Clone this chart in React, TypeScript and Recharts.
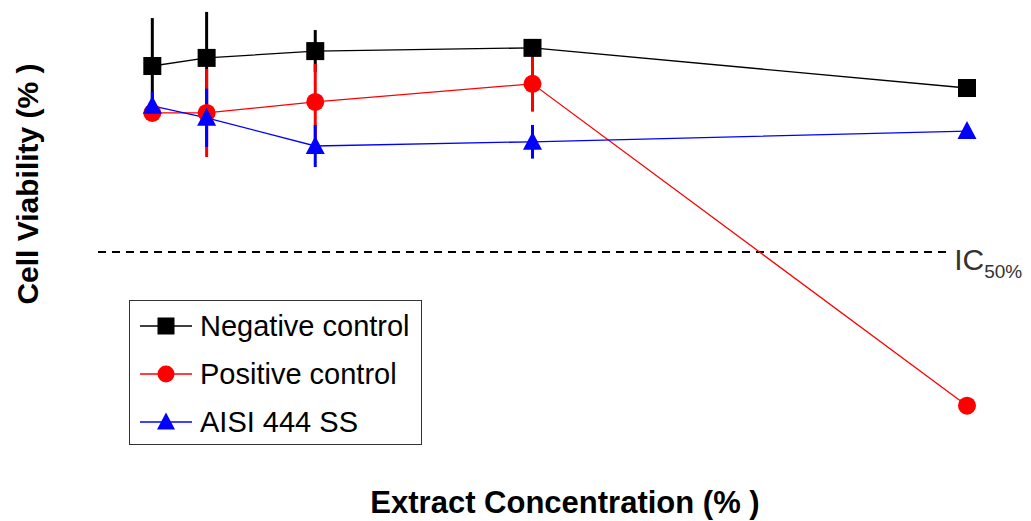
import React from 'react';
import { LineChart, Line, XAxis, YAxis, ErrorBar, ReferenceLine } from 'recharts';

const concentrations = [6.25, 12.5, 25, 50, 100];
const negativeControl = [107.4, 109.9, 112.0, 113.0, 100.6];
const negativeErr = [14.8, 14.2, 6.5, 0, 0];
const positiveControl = [92.9, 92.9, 96.3, 101.9, 2.5];
const positiveErr = [0, 13.6, 11.7, 8.6, 0];
const aisi444 = [95.1, 91.4, 82.7, 84.0, 87.3];
const aisiErr = [4.3, 9.0, 6.5, 5.2, 0];

const data = concentrations.map((c, i) => ({
  conc: c,
  neg: negativeControl[i],
  negErr: negativeErr[i],
  pos: positiveControl[i],
  posErr: positiveErr[i],
  aisi: aisi444[i],
  aisiErr: aisiErr[i],
}));

const FONT = 'Arial, "Liberation Sans", sans-serif';

const Square = (props: any) => {
  const { cx, cy, fill, size = 18 } = props;
  if (cx == null || cy == null) return null;
  return <rect x={cx - size / 2} y={cy - size / 2} width={size} height={size} fill={fill} />;
};
const Circle = (props: any) => {
  const { cx, cy, fill, size = 18 } = props;
  if (cx == null || cy == null) return null;
  return <circle cx={cx} cy={cy} r={size / 2} fill={fill} />;
};
const Triangle = (props: any) => {
  const { cx, cy, fill, size = 18 } = props;
  if (cx == null || cy == null) return null;
  const h = size / 2;
  return <path d={`M${cx},${cy - h - 1} L${cx + h + 0.5},${cy + h - 1} L${cx - h - 0.5},${cy + h - 1} Z`} fill={fill} />;
};

const series = [
  { key: 'neg', name: 'Negative control', color: '#000000', Shape: Square },
  { key: 'pos', name: 'Positive control', color: '#ff0000', Shape: Circle },
  { key: 'aisi', name: 'AISI 444 SS', color: '#0000ff', Shape: Triangle },
];

const LegendBox = () => (
  <div
    style={{
      position: 'absolute',
      left: 129,
      top: 300,
      width: 291,
      height: 143,
      border: '1.5px solid #333',
      background: '#fff',
      fontFamily: FONT,
      fontSize: 29,
      color: '#000',
      boxSizing: 'content-box',
    }}
  >
    {series.map((s, i) => (
      <div
        key={s.key}
        style={{ position: 'absolute', left: 10, top: 1 + i * 48, height: 48, display: 'flex', alignItems: 'center' }}
      >
        <svg width={54} height={24} style={{ marginRight: 6 }}>
          <line x1={0} y1={12} x2={52} y2={12} stroke={s.color} strokeWidth={1.3} />
          <s.Shape cx={26} cy={12} fill={s.color} size={17} />
        </svg>
        <span style={{ whiteSpace: 'nowrap' }}>{s.name}</span>
      </div>
    ))}
  </div>
);

const renderIC50 = (props: any) => {
  const { viewBox } = props;
  const x = viewBox.x + viewBox.width + 8;
  const y = viewBox.y + 18;
  return (
    <text x={x} y={y} fill="#333" fontFamily={FONT} fontSize={30}>
      IC
      <tspan fontSize={19} dy={8}>50%</tspan>
    </text>
  );
};

export default function App() {
  return (
    <div style={{ position: 'absolute', left: 0, top: 0, width: 1031, height: 521, background: '#fff' }}>
      <LineChart
        width={1031}
        height={521}
        data={data}
        margin={{ top: 9, right: 64, left: 98, bottom: 91 }}
      >
        <XAxis dataKey="conc" type="number" domain={[0, 100]} hide />
        <YAxis type="number" domain={[-5, 125]} hide />
        <ReferenceLine
          segment={[{ x: 0, y: 50 }, { x: 97.6, y: 50 }]}
          stroke="#000"
          strokeWidth={2}
          strokeDasharray="8 6"
          ifOverflow="visible"
          label={{ content: renderIC50 }}
        />
        {series.map((s) => (
          <Line
            key={s.key}
            dataKey={s.key}
            name={s.name}
            stroke={s.color}
            strokeWidth={1.3}
            isAnimationActive={false}
            dot={(p: any) => <s.Shape key={`${s.key}-${p.index}`} cx={p.cx} cy={p.cy} fill={s.color} />}
            activeDot={false}
          >
            <ErrorBar dataKey={`${s.key}Err`} width={0} stroke={s.color} strokeWidth={3} direction="y" />
          </Line>
        ))}
      </LineChart>
      <LegendBox />
      <div
        style={{
          position: 'absolute',
          left: 28,
          top: 184,
          transform: 'translate(-50%, -50%) rotate(-90deg)',
          whiteSpace: 'nowrap',
          fontFamily: FONT,
          fontWeight: 'bold',
          fontSize: 30,
          color: '#000',
        }}
      >
        Cell Viability (% )
      </div>
      <div
        style={{
          position: 'absolute',
          left: 565,
          top: 503,
          transform: 'translate(-50%, -50%)',
          whiteSpace: 'nowrap',
          fontFamily: FONT,
          fontWeight: 'bold',
          fontSize: 31,
          color: '#000',
        }}
      >
        Extract Concentration (% )
      </div>
    </div>
  );
}
